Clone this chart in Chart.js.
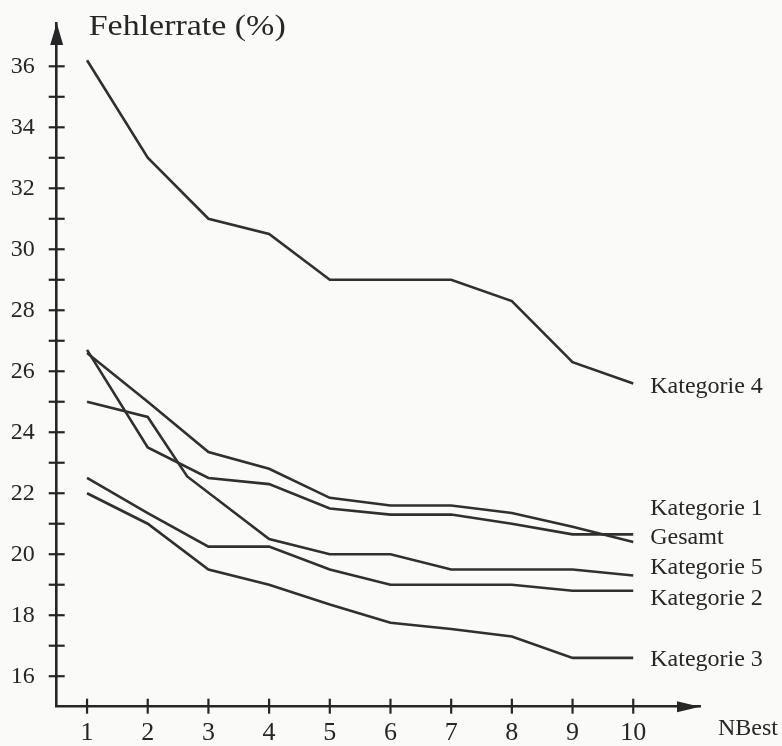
<!DOCTYPE html>
<html>
<head>
<meta charset="utf-8">
<script src="https://cdn.jsdelivr.net/npm/chart.js@4/dist/chart.umd.min.js"></script>
<style>
  html, body { margin: 0; padding: 0; background: #fafaf9; }
  #wrap { width: 782px; height: 746px; }
</style>
</head>
<body>
<div id="wrap"><canvas id="c" width="782" height="746"></canvas></div>
<script>
// N-best list length on the x axis
const nbest = [1, 2, 3, 4, 5, 6, 7, 8, 9, 10];

// Error rates (%) per category
const kat4   = [36.2, 33.0, 31.0, 30.5, 29.0, 29.0, 29.0, 28.3, 26.3, 25.6];
const kat1   = [26.6, 25.0, 23.35, 22.8, 21.85, 21.6, 21.6, 21.35, 20.9, 20.4];
const gesamt = [26.7, 23.5, 22.5, 22.3, 21.5, 21.3, 21.3, 21.0, 20.65, 20.65];
const kat5X  = [1, 2, 2.65, 4, 5, 6, 7, 8, 9, 10];
const kat5   = [25.0, 24.5, 22.55, 20.5, 20.0, 20.0, 19.5, 19.5, 19.5, 19.3];
const kat2   = [22.5, 21.35, 20.25, 20.25, 19.5, 19.0, 19.0, 19.0, 18.8, 18.8];
const kat3   = [22.0, 21.0, 19.5, 19.0, 18.35, 17.75, 17.55, 17.3, 16.6, 16.6];

// Axis ticks (labels only on even values)
const yTicks = [16, 17, 18, 19, 20, 21, 22, 23, 24, 25, 26, 27, 28, 29, 30, 31, 32, 33, 34, 35, 36];
const seriesNames = ['Kategorie 4', 'Kategorie 1', 'Gesamt', 'Kategorie 5', 'Kategorie 2', 'Kategorie 3'];

// vertical nudge (px) of each end label relative to its line end
const labelNudge = { 'Kategorie 4': 10, 'Kategorie 1': -27, 'Gesamt': 10, 'Kategorie 5': -2, 'Kategorie 2': 14, 'Kategorie 3': 8 };

const INK = '#262626';
const LINE = '#303030';
const SERIF = '"Liberation Serif", "Times New Roman", serif';

function pts(xs, ys) { return xs.map((x, i) => ({ x: x, y: ys[i] })); }

const seriesData = [
  pts(nbest, kat4), pts(nbest, kat1), pts(nbest, gesamt),
  pts(kat5X, kat5), pts(nbest, kat2), pts(nbest, kat3)
];

// Cross-shaped tick marks, axis arrowheads, end labels and axis captions
const decorations = {
  id: 'decorations',
  afterDraw(chart) {
    const ctx = chart.ctx;
    const xs = chart.scales.x, ys = chart.scales.y;
    const area = chart.chartArea;
    ctx.save();
    ctx.strokeStyle = INK;
    ctx.fillStyle = INK;
    ctx.lineWidth = 2.2;
    ctx.lineCap = 'butt';

    // y tick crosses
    ys.ticks.forEach(t => {
      const py = ys.getPixelForValue(t.value);
      ctx.beginPath();
      ctx.moveTo(area.left - 8, py);
      ctx.lineTo(area.left + 8, py);
      ctx.stroke();
    });
    // x tick crosses
    xs.ticks.forEach(t => {
      const px = xs.getPixelForValue(t.value);
      ctx.beginPath();
      ctx.moveTo(px, area.bottom - 8);
      ctx.lineTo(px, area.bottom + 7);
      ctx.stroke();
    });

    // arrowheads
    ctx.beginPath();
    ctx.moveTo(area.left, area.top);
    ctx.lineTo(area.left - 6.5, area.top + 22);
    ctx.lineTo(area.left + 6.5, area.top + 22);
    ctx.closePath();
    ctx.fill();
    ctx.beginPath();
    ctx.moveTo(area.right, area.bottom);
    ctx.lineTo(area.right - 23, area.bottom - 5.5);
    ctx.lineTo(area.right - 23, area.bottom + 5.5);
    ctx.closePath();
    ctx.fill();

    // end-of-line labels
    ctx.font = '24px ' + SERIF;
    ctx.textAlign = 'left';
    ctx.textBaseline = 'alphabetic';
    chart.data.datasets.forEach((ds, i) => {
      const meta = chart.getDatasetMeta(i);
      const last = meta.data[meta.data.length - 1];
      ctx.fillText(ds.label, last.x + 17, last.y + (labelNudge[ds.label] || 0));
    });

    // x axis caption
    ctx.fillText('NBest', area.right + 18, area.bottom + 28);

    // y axis caption, slightly widened
    ctx.save();
    ctx.font = '30px ' + SERIF;
    const w = ctx.measureText('Fehlerrate (%)').width;
    ctx.translate(area.left + 32, area.top + 12);
    ctx.scale(197 / w, 1);
    ctx.fillText('Fehlerrate (%)', 0, 0);
    ctx.restore();

    ctx.restore();
  }
};

const bg = {
  id: 'bg',
  beforeDraw(chart) {
    const ctx = chart.ctx;
    ctx.save();
    ctx.fillStyle = '#fafaf9';
    ctx.fillRect(0, 0, chart.width, chart.height);
    ctx.restore();
  }
};

function noOverhang(s) {
  s.paddingTop = 0; s.paddingBottom = 0; s.paddingLeft = 0; s.paddingRight = 0;
}

new Chart(document.getElementById('c'), {
  type: 'line',
  data: {
    datasets: seriesNames.map((name, i) => ({
      label: name,
      data: seriesData[i],
      borderColor: LINE,
      borderWidth: 2.6,
      pointRadius: 0,
      tension: 0,
      fill: false
    }))
  },
  options: {
    responsive: false,
    animation: false,
    events: [],
    layout: { padding: { top: 23, right: 82, left: 0, bottom: 0 } },
    plugins: { legend: { display: false }, tooltip: { enabled: false }, title: { display: false } },
    scales: {
      x: {
        type: 'linear',
        min: 0.5,
        max: 11.1,
        afterBuildTicks: s => { s.ticks = nbest.map(v => ({ value: v })); },
        afterFit: s => { s.height = 39.3; noOverhang(s); },
        grid: { display: false, drawTicks: false },
        border: { display: true, color: INK, width: 2.6 },
        ticks: {
          color: INK,
          padding: 11,
          maxRotation: 0,
          autoSkip: false,
          font: { family: SERIF, size: 26 },
          callback: v => String(v)
        }
      },
      y: {
        type: 'linear',
        min: 15,
        max: 37.42,
        afterBuildTicks: s => { s.ticks = yTicks.map(v => ({ value: v })); },
        afterFit: s => { s.width = 56.7; noOverhang(s); },
        grid: { display: false, drawTicks: false },
        border: { display: true, color: INK, width: 2.6 },
        ticks: {
          color: INK,
          padding: 22,
          autoSkip: false,
          font: { family: SERIF, size: 24 },
          callback: v => (v % 2 === 0 ? String(v) : '')
        }
      }
    }
  },
  plugins: [bg, decorations]
});
</script>
</body>
</html>
